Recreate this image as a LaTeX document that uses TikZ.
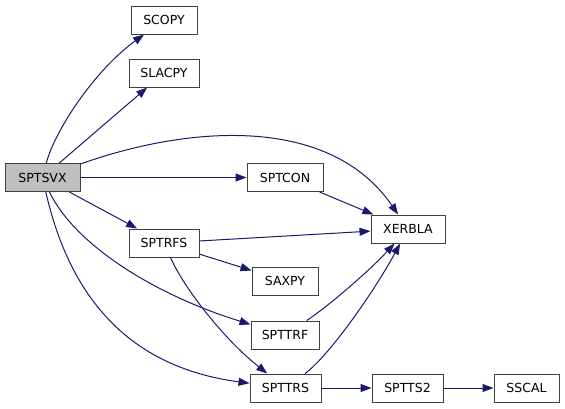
\documentclass[tikz,border=0pt]{standalone}
\usepackage{fontspec}
\setmainfont{DejaVu Sans}
\usetikzlibrary{arrows.meta}
\definecolor{edgeblue}{HTML}{191970}
\definecolor{boxline}{HTML}{404040}
\definecolor{rootfill}{HTML}{BFBFBF}
\begin{document}
\begin{tikzpicture}[x=1pt,y=-1pt,
  fn/.style={draw=boxline, line width=1pt, fill=white, minimum height=28pt, inner sep=0pt,
             font=\fontsize{12.5}{14}\selectfont},
  root/.style={fn, fill=rootfill},
  call/.style={draw=edgeblue, line width=1pt, -{Triangle[length=11pt,width=8pt]}, color=edgeblue}]
\useasboundingbox (0,0) rectangle (565,408);
\node[root, minimum width=75pt] (sptsvx) at (42.5,177.5) {SPTSVX};
\node[fn, minimum width=66pt] (scopy) at (164,20) {SCOPY};
\node[fn, minimum width=70pt] (slacpy) at (164,73) {SLACPY};
\node[fn, minimum width=76pt] (sptcon) at (285,177.5) {SPTCON};
\node[fn, minimum width=70pt] (sptrfs) at (164,243) {SPTRFS};
\node[fn, minimum width=74pt] (xerbla) at (408,229) {XERBLA};
\node[fn, minimum width=66pt] (saxpy) at (285,281) {SAXPY};
\node[fn, minimum width=68pt] (spttrf) at (285,335) {SPTTRF};
\node[fn, minimum width=71pt] (spttrs) at (285.5,388) {SPTTRS};
\node[fn, minimum width=71pt] (sptts2) at (407.5,388) {SPTTS2};
\node[fn, minimum width=65pt] (sscal) at (526.5,388) {SSCAL};

\draw[call] (sptsvx) .. controls (55,130) and (95,70) .. (scopy);
\draw[call] (sptsvx) -- (slacpy);
\draw[call] (sptsvx) .. controls (190,125) and (330,115) .. (xerbla);
\draw[call] (sptsvx) -- (sptcon);
\draw[call] (sptsvx) -- (sptrfs);
\draw[call] (sptsvx) .. controls (75,245) and (155,295) .. (spttrf);
\draw[call] (sptsvx) .. controls (75,320) and (150,370) .. (spttrs);
\draw[call] (sptcon) -- (xerbla);
\draw[call] (sptrfs) -- (xerbla);
\draw[call] (sptrfs) -- (saxpy);
\draw[call] (sptrfs) .. controls (185,290) and (225,340) .. (spttrs);
\draw[call] (spttrf) .. controls (330,305) and (370,270) .. (xerbla);
\draw[call] (spttrs) .. controls (330,355) and (375,290) .. (xerbla);
\draw[call] (spttrs) -- (sptts2);
\draw[call] (sptts2) -- (sscal);
\end{tikzpicture}
\end{document}
